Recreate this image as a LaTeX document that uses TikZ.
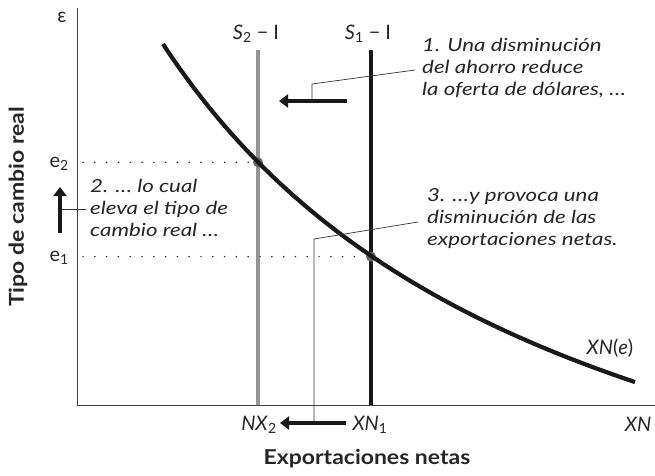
\documentclass[tikz,border=0pt]{standalone}
\usepackage{fontspec}
\setmainfont{Lato}
\newfontfamily\notefont[FakeStretch=1.24]{Lato}
\newfontfamily\axfont[FakeStretch=1.12]{Lato}
\usetikzlibrary{arrows.meta}
\tikzset{
  axisline/.style={line width=1pt, draw=black!75},
  demand/.style={line width=4.2pt, draw=black!90},
  supply/.style={line width=4pt},
  leader/.style={line width=0.7pt, draw=black!80},
  bigarrow/.style={line width=4pt, draw=black!90, -{Triangle[length=9pt,width=13pt]}},
  note/.style={font=\notefont\fontsize{18}{22}\selectfont\itshape, align=left, inner sep=0pt, text=black!85},
  lbl/.style={font=\fontsize{20}{24}\selectfont, inner sep=0pt, text=black!85},
  axlbl/.style={font=\axfont\fontsize{20.5}{24}\selectfont\bfseries, inner sep=0pt, text=black!85},
  dotline/.style={line width=1.7pt, dash pattern=on 0pt off 11.8pt, line cap=round, draw=black!85},
  eqdot/.style={circle, fill=black!60, inner sep=0pt, minimum size=10pt}
}
\begin{document}
\begin{tikzpicture}[x=1pt, y=-1pt]
\useasboundingbox (0,0) rectangle (655,475);

% axes
\coordinate (O) at (77,405);
\coordinate (ytop) at (77,8);
\coordinate (xend) at (655,405);
\draw[axisline] (ytop) -- (O) -- (xend);

% supply lines
\coordinate (s2top) at (258,50);
\coordinate (s2bot) at (258,405);
\coordinate (s1top) at (371,50);
\coordinate (s1bot) at (371,405);
\draw[supply, draw=black!42] (s2top) -- (s2bot);
\draw[supply, draw=black!90] (s1top) -- (s1bot);

% equilibrium dots
\node[eqdot] (d2) at (258,162.3) {};
\node[eqdot] (d1) at (371,256.6) {};

% dotted lines
\coordinate (e2start) at (83,162.3);
\coordinate (e1start) at (83,256.6);
\draw[dotline] (e2start) -- (d2.west);
\draw[dotline] (e1start) -- (d1.west);

% demand curve XN(e)
\draw[demand] plot[domain=163:635, samples=80, variable=\x]
  ({\x}, {681.6 - 2666.94/(\x/100 + 2.553)});

% axis labels
\node[font=\fontsize{20}{22}\selectfont, text=black!85, inner sep=0pt] (eps) at (62,17) {ε};
\node[lbl, anchor=east] (e2) at (69,164) {e\textsubscript{2}};
\node[lbl, anchor=east] (e1) at (69,258) {e\textsubscript{1}};
\node[lbl] (S2) at (256,34) {\textit{S}\textsubscript{2} − I};
\node[lbl] (S1) at (368,34) {\textit{S}\textsubscript{1} − I};
\node[lbl] (NX2) at (259,425) {\textit{NX}\textsubscript{2}};
\node[lbl] (XN1) at (370,425) {\textit{XN}\textsubscript{1}};
\node[lbl] (XN) at (638,424) {\textit{XN}};
\node[lbl] (XNe) at (610,348) {\textit{XN}(\textit{e})};
\node[axlbl] (xlab) at (367,459) {Exportaciones netas};
\node[axlbl, rotate=90] (ylab) at (18,207) {Tipo de cambio real};

% annotation 1
\node[note, anchor=west] (n1) at (422,68) {1. Una disminución\\del ahorro reduce\\la oferta de dólares, …};
\coordinate (a1s) at (347,101);
\coordinate (a1e) at (279,101);
\draw[bigarrow] (a1s) -- (a1e);
\coordinate (l1a) at (415,70);
\coordinate (l1b) at (312,84);
\coordinate (l1c) at (312,99);
\draw[leader] (l1a) -- (l1b) -- (l1c);

% annotation 2
\node[note, anchor=west] (n2) at (90,208) {2. … lo cual\\eleva el tipo de\\cambio real …};
\coordinate (a2s) at (60,233);
\coordinate (a2e) at (60,187);
\draw[bigarrow] (a2s) -- (a2e);
\coordinate (l2a) at (62,209);
\coordinate (l2b) at (86,209);
\draw[leader] (l2a) -- (l2b);

% annotation 3
\node[note, anchor=west] (n3) at (427,219) {3. …y provoca una\\disminución de las\\exportaciones netas.};
\coordinate (a3s) at (346,423);
\coordinate (a3e) at (280,423);
\draw[bigarrow] (a3s) -- (a3e);
\coordinate (l3a) at (418,222);
\coordinate (l3b) at (314,239);
\coordinate (l3c) at (314,421);
\draw[leader] (l3a) -- (l3b) -- (l3c);
\end{tikzpicture}
\end{document}
